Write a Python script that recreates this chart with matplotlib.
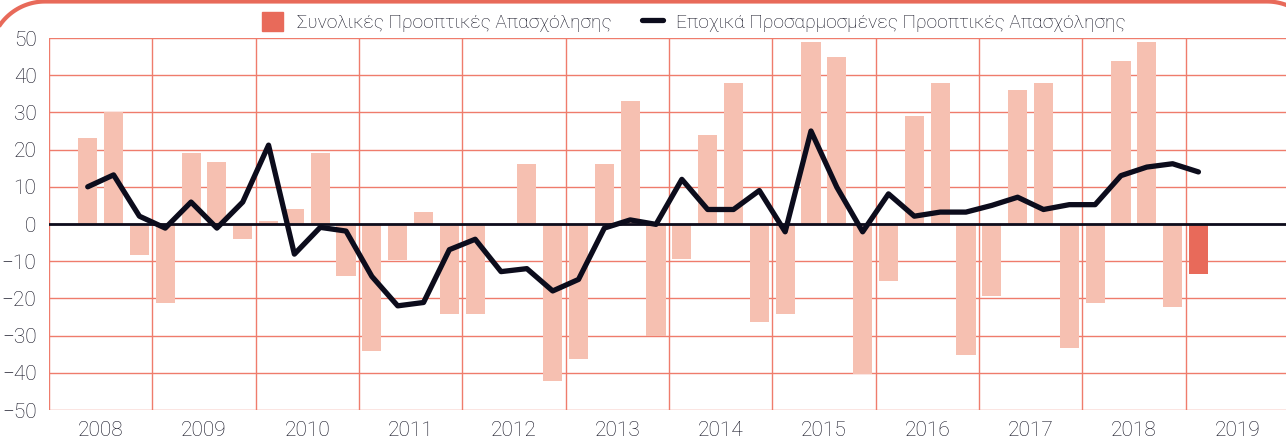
# -*- coding: utf-8 -*-
import numpy as np
import matplotlib.pyplot as plt
from matplotlib.patches import Patch
from matplotlib.lines import Line2D

plt.rcParams['font.family'] = ['Roboto', 'DejaVu Sans']

# έτη του άξονα x (4 τρίμηνα ανά έτος)
years = [str(y) for y in range(2008, 2020)]
# τα δεδομένα ξεκινούν από το 2ο τρίμηνο του 2008 έως το 1ο τρίμηνο 2019
start_quarter = 1

total = [23, 30, -8.2, -21.2, 19, 16.8, -4.1, 0.9, 3.9, 19, -14.1,
         -34.1, -9.8, 3.1, -24.1, -24.1, 0, 16, -42.3, -36.3, 16, 33.1,
         -30.1, -9.4, 23.9, 37.9, -26.3, -24.1, 49, 45, -40.2, -15.2, 29,
         37.9, -35.2, -19.4, 36, 37.9, -33.3, -21.2, 43.9, 49, -22.3, -13.4]

seasonal = [10, 13.2, 2.1, -1.1, 5.9, -1.1, 5.9, 21.2, -8.1, -0.9, -1.9,
            -14.1, -22, -21.1, -6.9, -4.1, -12.8, -12, -18, -14.9, -1.1, 1.1,
            -0.1, 12, 3.9, 3.9, 9, -2.1, 25, 9.9, -2.1, 8.1, 2.1, 3.2, 3.2,
            5, 7.2, 3.9, 5.2, 5.2, 13, 15.3, 16.2, 14]

label_total = 'Συνολικές Προοπτικές Απασχόλησης'
label_seasonal = 'Εποχικά Προσαρμοσμένες Προοπτικές Απασχόλησης'

light = '#F6C0B1'
dark = '#E86A5A'
grid_col = '#EF7C6C'
ink = '#0c0c1c'
text_col = '#101020'

W, H = 1286, 441
fig = plt.figure(figsize=(W / 100, H / 100), dpi=100)
left_px, top_px, bottom_px = 49, 38, 410
slot_px = 25.83
ax = fig.add_axes([left_px / W, (H - bottom_px) / H,
                   (W - left_px) / W, (bottom_px - top_px) / H])

x = np.arange(len(total)) + start_quarter
colors = [light] * (len(total) - 1) + [dark]
ax.bar(x, total, width=0.74, color=colors, zorder=2)
ax.axhline(0, color=ink, lw=2, zorder=3)
ax.plot(x, seasonal, color=ink, lw=3.8, solid_capstyle='round', zorder=4)

ax.set_xlim(-0.5, -0.5 + (W - left_px) / slot_px)
ax.set_ylim(-50, 50)

# πλέγμα
for yv in range(-50, 51, 10):
    ax.axhline(yv, color=grid_col, lw=1, zorder=1)
for i in range(len(years) + 1):
    ax.axvline(4 * i - 0.5, color=grid_col, lw=1, zorder=1)

ax.set_yticks(range(-50, 51, 10))
ax.set_xticks([4 * i + 1.5 for i in range(len(years))])
ax.set_xticklabels(years)
ax.tick_params(length=0, labelsize=15, colors=text_col)
ax.tick_params(axis='y', pad=9)
ax.tick_params(axis='x', pad=8)
for lab in ax.get_xticklabels() + ax.get_yticklabels():
    lab.set_fontweight('light')
for s in ax.spines.values():
    s.set_visible(False)

handles = [Patch(color=dark), Line2D([], [], color=ink, lw=3.8, solid_capstyle='round')]
leg = fig.legend(handles, [label_total, label_seasonal], loc='center',
                 bbox_to_anchor=(694 / W, 1 - 22 / H), ncol=2, frameon=False,
                 fontsize=13.8, handlelength=1.1, handleheight=1.1, columnspacing=1.6,
                 handletextpad=0.7, labelcolor=text_col)
for t in leg.get_texts():
    t.set_fontweight('light')

# στρογγυλεμένο πλαίσιο στην κορυφή (μόνο το πάνω μέρος φαίνεται)
r = 55
a1 = np.linspace(np.pi, np.pi / 2, 40)
a2 = np.linspace(np.pi / 2, 0, 40)
px = np.concatenate([45 + r * np.cos(a1), 1267 + r * np.cos(a2)])
py = np.concatenate([1.5 + r - r * np.sin(a1), 1.5 + r - r * np.sin(a2)])
fig.add_artist(Line2D(px / W, 1 - py / H, color=dark, lw=3,
                      transform=fig.transFigure, solid_capstyle='butt'))

plt.savefig('out.png', dpi=100)
